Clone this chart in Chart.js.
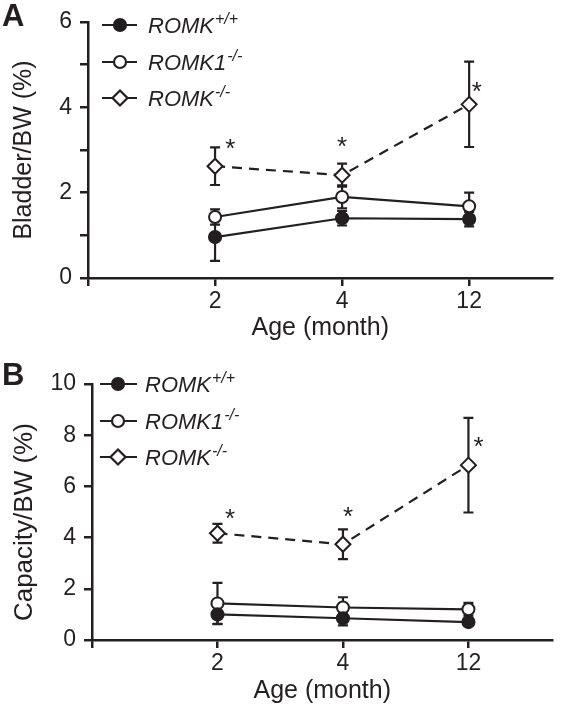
<!DOCTYPE html>
<html>
<head>
<meta charset="utf-8">
<script src="https://cdn.jsdelivr.net/npm/chart.js@4.4.1/dist/chart.umd.min.js"></script>
<style>
  body { margin: 0; background: #fff; }
  .panel { position: relative; width: 562px; }
  .letter { position: absolute; left: 2px; font: bold 31px "Liberation Sans", Arial, sans-serif; color: #231f20; }
</style>
</head>
<body>
<div class="panel" style="height:355px">
  <canvas id="chartA" width="562" height="355"></canvas>
  <div class="letter" style="top:-2px">A</div>
</div>
<div class="panel" style="height:356px">
  <canvas id="chartB" width="562" height="356"></canvas>
  <div class="letter" style="top:2px">B</div>
</div>
<script>
// x categories (months) and their slot on the axis
const ages = ['2', '4', '12'];
const xSlots = [1, 2, 3];

const legendBase = ['ROMK', 'ROMK1', 'ROMK'];
const legendSup = ['+/+', '-/-', '-/-'];

// panel A: bladder weight / body weight (%)
const bladderWT = [0.96, 1.40, 1.38];
const bladderWTErr = [0.56, 0.17, 0.17];
const bladderK1 = [1.43, 1.90, 1.68];
const bladderK1Err = [0.18, 0.27, 0.32];
const bladderKO = [2.62, 2.41, 4.07];
const bladderKOErr = [0.44, 0.27, 1.00];
const bladderTicks = [0, 1, 2, 3, 4, 5, 6];
const bladderStars = [[1.12, 3.12], [2.0, 3.16], [3.06, 4.45]];

// panel B: bladder capacity / body weight (%)
const capWT = [1.00, 0.85, 0.70];
const capWTErr = [0.38, 0.28, 0.06];
const capK1 = [1.43, 1.27, 1.20];
const capK1Err = [0.80, 0.40, 0.25];
const capKO = [4.17, 3.74, 6.83];
const capKOErr = [0.37, 0.58, 1.85];
const capTicks = [0, 2, 4, 6, 8, 10];
const capStars = [[1.10, 4.88], [2.04, 4.96], [3.08, 7.70]];

const ink = '#231f20';
const fontFam = '"Liberation Sans", Arial, sans-serif';

const errorBars = {
    id: 'errorBars',
    beforeDatasetsDraw(chart) {
        const ctx = chart.ctx;
        const xs = chart.scales.x, ys = chart.scales.y;
        ctx.save();
        ctx.strokeStyle = ink;
        ctx.lineWidth = 2.2;
        chart.data.datasets.forEach((ds) => {
            ds.data.forEach((p, i) => {
                const e = ds.err[i];
                const x = xs.getPixelForValue(p.x);
                const top = ys.getPixelForValue(p.y + e);
                const bot = ys.getPixelForValue(p.y - e);
                ctx.beginPath();
                ctx.moveTo(x, top); ctx.lineTo(x, bot);
                ctx.moveTo(x - 5, top); ctx.lineTo(x + 5, top);
                ctx.moveTo(x - 5, bot); ctx.lineTo(x + 5, bot);
                ctx.stroke();
            });
        });
        ctx.restore();
    },
    afterDraw(chart) {
        const ctx = chart.ctx;
        const o = chart.options.plugins.errorBars;
        const xs = chart.scales.x, ys = chart.scales.y;
        ctx.save();
        ctx.fillStyle = ink;
        // asterisks
        ctx.font = '26px ' + fontFam;
        ctx.textAlign = 'center';
        ctx.textBaseline = 'middle';
        o.stars.forEach((s) => {
            ctx.fillText('*', xs.getPixelForValue(s[0]), ys.getPixelForValue(s[1]) + 5);
        });
        // legend
        chart.data.datasets.forEach((ds, i) => {
            const y = o.legY[i];
            ctx.strokeStyle = ink;
            ctx.lineWidth = 2.2;
            ctx.setLineDash([]);
            ctx.beginPath();
            ctx.moveTo(o.legX[0], y); ctx.lineTo(o.legX[2], y);
            ctx.stroke();
            ctx.beginPath();
            if (ds.pointStyle === 'rectRot') {
                const r = ds.pointRadius;
                ctx.moveTo(o.legX[1], y - r); ctx.lineTo(o.legX[1] + r, y);
                ctx.lineTo(o.legX[1], y + r); ctx.lineTo(o.legX[1] - r, y);
                ctx.closePath();
            } else {
                ctx.arc(o.legX[1], y, ds.pointRadius, 0, Math.PI * 2);
            }
            ctx.fillStyle = ds.pointBackgroundColor;
            ctx.fill();
            ctx.stroke();
            ctx.fillStyle = ink;
            ctx.textAlign = 'left';
            ctx.textBaseline = 'alphabetic';
            ctx.font = 'italic 22px ' + fontFam;
            ctx.fillText(legendBase[i], o.legX[3], y + 8);
            const w = ctx.measureText(legendBase[i]).width;
            ctx.font = 'italic 16px ' + fontFam;
            ctx.fillText(legendSup[i], o.legX[3] + w + 1, y - 1);
        });
        ctx.restore();
    }
};

function makePanel(id, opts) {
    const pts = (vals) => vals.map((v, i) => ({ x: xSlots[i], y: v }));
    return new Chart(document.getElementById(id), {
        type: 'scatter',
        data: {
            datasets: [{
                data: pts(opts.wt), err: opts.wtErr,
                showLine: true, borderColor: ink, borderWidth: 2.2,
                pointStyle: 'circle', pointRadius: 6, pointBackgroundColor: ink, pointBorderColor: ink
            }, {
                data: pts(opts.k1), err: opts.k1Err,
                showLine: true, borderColor: ink, borderWidth: 2.2,
                pointStyle: 'circle', pointRadius: 6, pointBorderWidth: 2,
                pointBackgroundColor: '#fff', pointBorderColor: ink
            }, {
                data: pts(opts.ko), err: opts.koErr,
                showLine: true, borderColor: ink, borderWidth: 2.2, borderDash: [10, 7],
                pointStyle: 'rectRot', pointRadius: 7.5, pointBorderWidth: 2,
                pointBackgroundColor: '#fff', pointBorderColor: ink
            }]
        },
        options: {
            responsive: false,
            animation: false,
            layout: { padding: { top: opts.top, right: 0, left: 0, bottom: 0 } },
            plugins: {
                legend: { display: false },
                tooltip: { enabled: false },
                errorBars: { stars: opts.stars, legY: opts.legY, legX: opts.legX }
            },
            scales: {
                x: {
                    type: 'linear', min: 0, max: opts.xMax,
                    afterBuildTicks: (s) => { s.ticks = [0].concat(xSlots).map((v) => ({ value: v })); },
                    ticks: {
                        callback: (v) => (v === 0 ? '' : ages[v - 1]),
                        font: { family: fontFam, size: 23 }, color: ink, padding: 2,
                        maxRotation: 0, autoSkip: false
                    },
                    grid: { drawOnChartArea: false, tickLength: 8, lineWidth: 2.5, color: ink },
                    border: { width: 2.5, color: ink },
                    title: {
                        display: true, text: 'Age (month)', color: ink,
                        font: { family: fontFam, size: 25 }, padding: { top: 0, bottom: opts.xTitlePad }
                    },
                    afterFit: (s) => { s.height = opts.xHeight; }
                },
                y: {
                    min: 0, max: opts.yMax,
                    afterBuildTicks: (s) => { s.ticks = opts.yTicks.map((v) => ({ value: v })); },
                    ticks: {
                        callback: (v) => (v % 2 === 0 ? v : ''),
                        font: { family: fontFam, size: 23 }, color: ink, padding: 8
                    },
                    grid: { drawOnChartArea: false, tickLength: 8, lineWidth: 2.5, color: ink },
                    border: { width: 2.5, color: ink },
                    title: {
                        display: true, text: opts.yTitle, color: ink,
                        font: { family: fontFam, size: opts.yTitleSize }, padding: { top: 9, bottom: 0 }
                    },
                    afterFit: (s) => { s.width = opts.yWidth; }
                }
            }
        },
        plugins: [errorBars]
    });
}

makePanel('chartA', {
    wt: bladderWT, wtErr: bladderWTErr, k1: bladderK1, k1Err: bladderK1Err,
    ko: bladderKO, koErr: bladderKOErr, stars: bladderStars,
    yMax: 6, yTicks: bladderTicks, yTitle: 'Bladder/BW (%)', yTitleSize: 25,
    top: 22, xMax: 3.656, xHeight: 77, xTitlePad: 12, yWidth: 88,
    legY: [25, 62, 98], legX: [102, 120, 137, 148]
});

makePanel('chartB', {
    wt: capWT, wtErr: capWTErr, k1: capK1, k1Err: capK1Err,
    ko: capKO, koErr: capKOErr, stars: capStars,
    yMax: 10, yTicks: capTicks, yTitle: 'Capacity/BW (%)\u2002 ', yTitleSize: 26,
    top: 29, xMax: 3.67, xHeight: 71, xTitlePad: 5, yWidth: 92,
    legY: [29, 66, 102], legX: [100, 118, 137, 145]
});
</script>
</body>
</html>
